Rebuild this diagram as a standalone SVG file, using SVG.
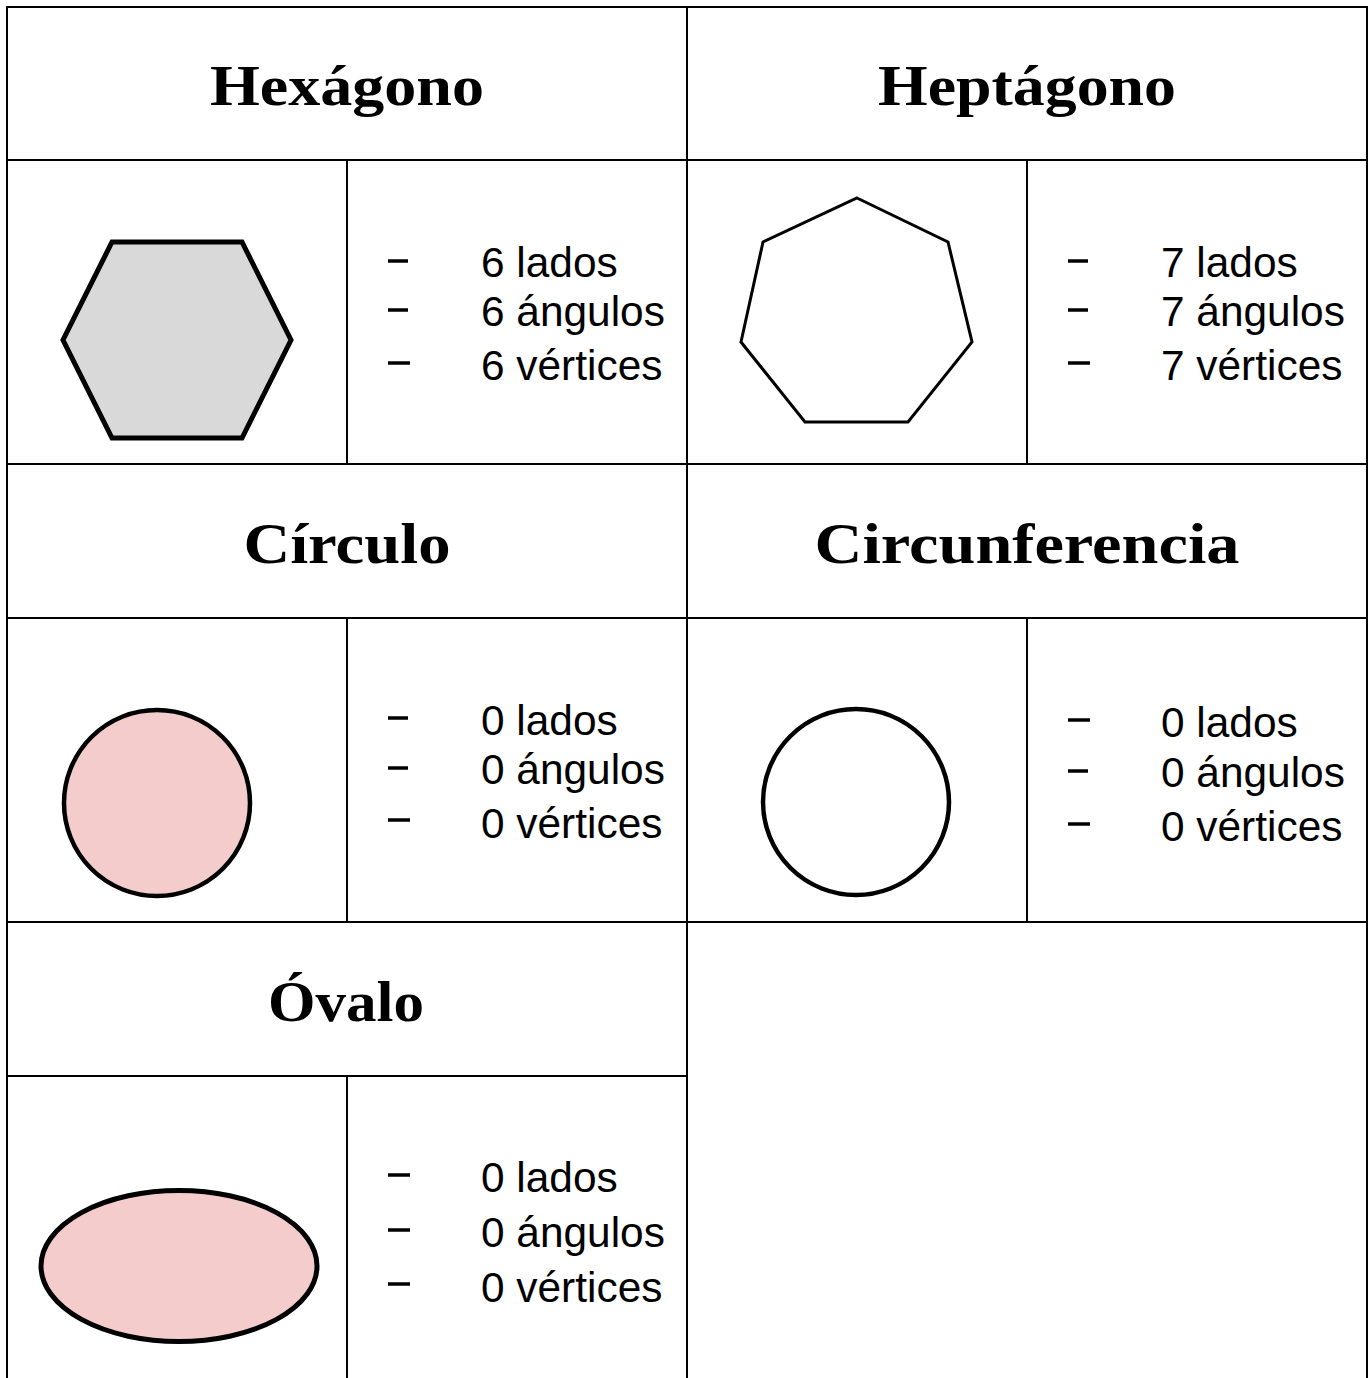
<svg xmlns="http://www.w3.org/2000/svg" width="1371" height="1378" viewBox="0 0 1371 1378">
<style>
.grid{stroke:#000;stroke-width:2;fill:none}
.title{font-family:"Liberation Serif","DejaVu Serif",serif;font-weight:bold;font-size:58px;fill:#000;text-anchor:middle}
.item{font-family:"Liberation Sans",Arial,sans-serif;font-size:42.4px;fill:#000}
.dash{stroke:#000;stroke-width:3.5}
.shape{stroke:#000;stroke-linejoin:miter}
</style>
<rect width="1371" height="1378" fill="#fff"/>
<g id="grid" class="grid">
<line x1="7" y1="7" x2="1367" y2="7"/>
<line x1="7" y1="160" x2="1367" y2="160"/>
<line x1="7" y1="464" x2="1367" y2="464"/>
<line x1="7" y1="618" x2="1367" y2="618"/>
<line x1="7" y1="922" x2="1367" y2="922"/>
<line x1="7" y1="1076" x2="687" y2="1076"/>
<line x1="7" y1="6" x2="7" y2="1378"/>
<line x1="687" y1="6" x2="687" y2="1378"/>
<line x1="1367" y1="6" x2="1367" y2="1378"/>
<line x1="347" y1="160" x2="347" y2="464"/>
<line x1="347" y1="618" x2="347" y2="922"/>
<line x1="347" y1="1076" x2="347" y2="1378"/>
<line x1="1027" y1="160" x2="1027" y2="464"/>
<line x1="1027" y1="618" x2="1027" y2="922"/>
</g>
<g id="hexagono">
<text class="title" x="347" y="105" textLength="274" lengthAdjust="spacingAndGlyphs">Hexágono</text>
<polygon class="shape" points="112,242 242,242 291,340 242,438 112,438 63,340" fill="#d9d9d9" stroke-width="5"/>
<line class="dash" x1="388" y1="261" x2="408" y2="261"/>
<line class="dash" x1="388" y1="310" x2="408" y2="310"/>
<line class="dash" x1="388" y1="363" x2="410" y2="363" stroke-width="4"/>
<text class="item" x="481" y="277">6 lados</text>
<text class="item" x="481" y="326">6 ángulos</text>
<text class="item" x="481" y="380">6 vértices</text>
</g>
<g id="heptagono">
<text class="title" x="1027" y="105" textLength="298" lengthAdjust="spacingAndGlyphs">Heptágono</text>
<polygon class="shape" points="857,198 948,242 972,342 908,422 805,422 741,342 763,242" fill="#fff" stroke-width="3"/>
<line class="dash" x1="1068" y1="261" x2="1088" y2="261"/>
<line class="dash" x1="1068" y1="310" x2="1088" y2="310"/>
<line class="dash" x1="1068" y1="363" x2="1090" y2="363" stroke-width="4"/>
<text class="item" x="1161" y="277">7 lados</text>
<text class="item" x="1161" y="326">7 ángulos</text>
<text class="item" x="1161" y="380">7 vértices</text>
</g>
<g id="circulo">
<text class="title" x="347" y="563" textLength="207" lengthAdjust="spacingAndGlyphs">Círculo</text>
<circle class="shape" cx="157" cy="803" r="93" fill="#f4cccc" stroke-width="4.5"/>
<line class="dash" x1="388" y1="718" x2="408" y2="718"/>
<line class="dash" x1="388" y1="768" x2="408" y2="768"/>
<line class="dash" x1="388" y1="820" x2="410" y2="820" stroke-width="4"/>
<text class="item" x="481" y="735">0 lados</text>
<text class="item" x="481" y="784">0 ángulos</text>
<text class="item" x="481" y="838">0 vértices</text>
</g>
<g id="circunferencia">
<text class="title" x="1027" y="563" textLength="425" lengthAdjust="spacingAndGlyphs">Circunferencia</text>
<circle class="shape" cx="856" cy="802" r="93" fill="#fff" stroke-width="4.5"/>
<line class="dash" x1="1068" y1="720" x2="1090" y2="720" stroke-width="4"/>
<line class="dash" x1="1068" y1="771" x2="1088" y2="771"/>
<line class="dash" x1="1068" y1="824" x2="1090" y2="824" stroke-width="4"/>
<text class="item" x="1161" y="737">0 lados</text>
<text class="item" x="1161" y="787">0 ángulos</text>
<text class="item" x="1161" y="841">0 vértices</text>
</g>
<g id="ovalo">
<text class="title" x="346" y="1021" textLength="156" lengthAdjust="spacingAndGlyphs">Óvalo</text>
<ellipse class="shape" cx="179" cy="1266" rx="138" ry="75.5" fill="#f4cccc" stroke-width="5"/>
<line class="dash" x1="388" y1="1175" x2="410" y2="1175" stroke-width="4"/>
<line class="dash" x1="388" y1="1230" x2="410" y2="1230" stroke-width="4"/>
<line class="dash" x1="388" y1="1284" x2="410" y2="1284" stroke-width="4"/>
<text class="item" x="481" y="1192">0 lados</text>
<text class="item" x="481" y="1247">0 ángulos</text>
<text class="item" x="481" y="1302">0 vértices</text>
</g>
</svg>
